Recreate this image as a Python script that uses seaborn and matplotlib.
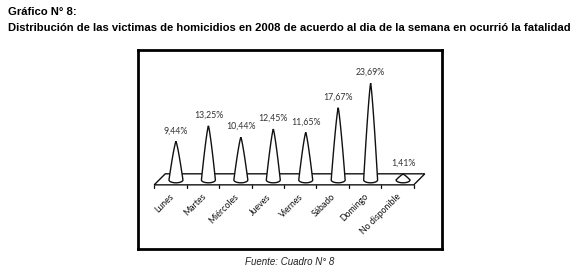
import numpy as np
import matplotlib
matplotlib.use("Agg")
import matplotlib.pyplot as plt
import seaborn as sns

dias = ["Lunes", "Martes", "Miércoles", "Jueves", "Viernes", "Sábado", "Domingo", "No disponible"]
porcentajes = [9.44, 13.25, 10.44, 12.45, 11.65, 17.67, 23.69, 1.41]
etiquetas = ["9,44%", "13,25%", "10,44%", "12,45%", "11,65%", "17,67%", "23,69%", "1,41%"]

sns.set_theme(style="white")
plt.rcParams['font.family'] = ['Lato', 'DejaVu Sans']

fig = plt.figure(figsize=(5.8, 2.72), dpi=100)
ax = fig.add_axes([138/580, 23/272, 304/580, 199/272])
sns.barplot(x=dias, y=porcentajes, ax=ax, width=0.43, color='white')

# floor (3D-like base)
n = len(dias)
front, back, shift = -1.2, 1.5, 0.17
floor_x = [-0.5 - shift, n - 0.5 - shift, n - 0.5 + shift, -0.5 + shift]
floor_y = [front, front, back, back]
ax.fill(floor_x, floor_y, facecolor='white', edgecolor='#111111', lw=1.0, zorder=1)
for b in np.arange(n + 1) - 0.5 - shift:
    ax.plot([b, b], [front, front - 0.8], color='#111111', lw=0.9, zorder=1)

# replace bars by cones
d = 0.7
for p, lab in zip(list(ax.patches), etiquetas):
    cx = p.get_x() + p.get_width() / 2
    w = p.get_width()
    h = p.get_height()
    p.remove()
    t = np.linspace(0, 1, 50)
    half = (w / 2) * (1 - t) ** 0.8
    yl = h * t
    th = np.linspace(0, -np.pi, 40)
    xs = np.concatenate([cx - half, (cx + half)[::-1], cx + w/2*np.cos(th)])
    ys = np.concatenate([yl, yl[::-1], d*np.sin(th)])
    ax.fill(xs, ys, facecolor='white', edgecolor='#111111', lw=1.0, zorder=3)
    ax.text(cx, h + 2.6, lab, ha='center', va='center', fontsize=6.3, color='#333333')

for i, dname in enumerate(dias):
    ax.text(i - 0.22, -3.0, dname, rotation=45, rotation_mode='anchor', ha='right', va='top',
            fontsize=6.3, color='#111111')

ax.set_xlim(-1.17, 8.2)
ax.set_ylim(-16.9, 31.8)
ax.set_xticks([])
ax.set_yticks([])
ax.set_xlabel('')
ax.set_ylabel('')
for s in ax.spines.values():
    s.set_visible(True)
    s.set_color('black')
    s.set_linewidth(2.0)

fig.text(8/580, 1 - 12/272, "Gráfico N° 8:", fontsize=8.1, fontweight='bold',
         family='Liberation Sans', va='center', ha='left', color='black')
fig.text(8/580, 1 - 28/272,
         "Distribución de las victimas de homicidios en 2008 de acuerdo al dia de la semana en ocurrió la fatalidad",
         fontsize=8.1, fontweight='bold', family='Liberation Sans', va='center', ha='left', color='black')
fig.text(290/580, 1 - 262/272, "Fuente: Cuadro N° 8", fontsize=7, style='italic',
         family='Liberation Sans', va='center', ha='center', color='#222222')

fig.savefig("out.png", dpi=100)
